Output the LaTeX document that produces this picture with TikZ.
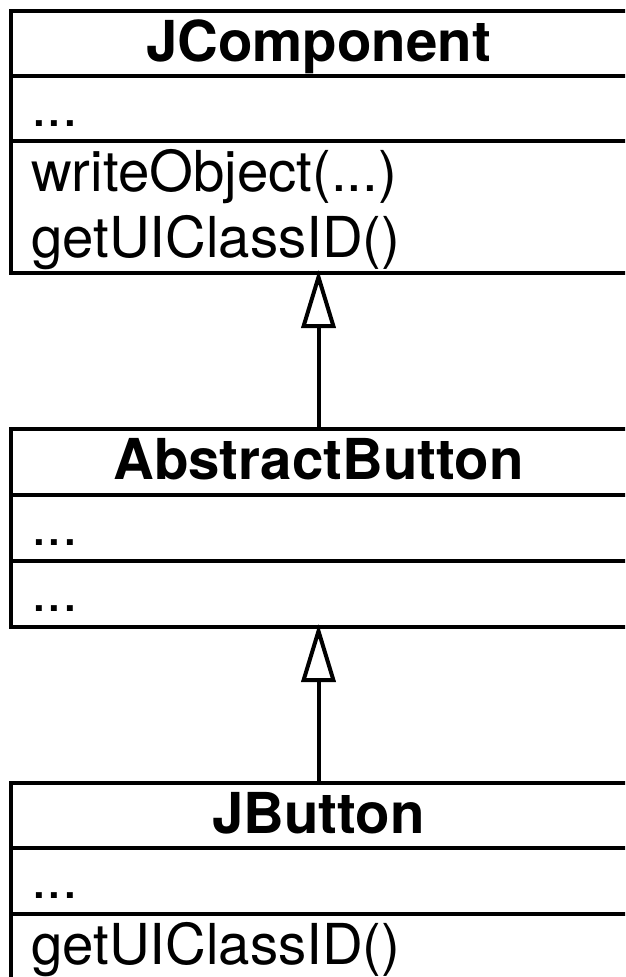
\documentclass[tikz,border=0pt]{standalone}
\usepackage{fontspec}
\setmainfont{TeX Gyre Heros}
\usetikzlibrary{arrows.meta}
\begin{document}
\begin{tikzpicture}[x=1pt,y=1pt,
  umlbox/.style={draw, line width=4pt, inner sep=0pt, outer sep=0pt,
    minimum width=680pt, anchor=north west},
  sepline/.style={line width=4pt},
  classname/.style={anchor=base, inner sep=0pt,
    font=\fontsize{56.4}{67}\selectfont\bfseries},
  member/.style={anchor=base west, inner sep=0pt,
    font=\fontsize{56.4}{67}\selectfont},
  inherits/.style={line width=4pt,
    -{Triangle[open, length=58pt, width=34pt]}, shorten >=-3pt}
]
\useasboundingbox (0,0) rectangle (625,-977);
\clip (0,0) rectangle (625,-977);

% JComponent
\node[umlbox, minimum height=262pt] (jc) at (11,-11) {};
\draw[sepline] ([yshift=-65pt]jc.north west) -- ([yshift=-65pt]jc.north east);
\draw[sepline] ([yshift=-130pt]jc.north west) -- ([yshift=-130pt]jc.north east);
\node[classname] (jcname) at (318.5,-61) {JComponent};
\node[member] (jcattr) at (31,-126) {...};
\node[member] (jcop1) at (31,-191) {writeObject(...)};
\node[member] (jcop2) at (31,-257) {getUIClassID()};

% AbstractButton
\node[umlbox, minimum height=198pt] (ab) at (11,-429) {};
\draw[sepline] ([yshift=-66pt]ab.north west) -- ([yshift=-66pt]ab.north east);
\draw[sepline] ([yshift=-132pt]ab.north west) -- ([yshift=-132pt]ab.north east);
\node[classname] (abname) at (318.5,-479) {AbstractButton};
\node[member] (abattr) at (31,-545) {...};
\node[member] (abop) at (31,-611) {...};

% JButton
\node[umlbox, minimum height=262pt] (jb) at (11,-783) {};
\draw[sepline] ([yshift=-65pt]jb.north west) -- ([yshift=-65pt]jb.north east);
\draw[sepline] ([yshift=-131pt]jb.north west) -- ([yshift=-131pt]jb.north east);
\node[classname] (jbname) at (318.5,-833) {JButton};
\node[member] (jbattr) at (31,-898) {...};
\node[member] (jbop) at (31,-964) {getUIClassID()};

% generalisation arrows
\draw[inherits] (ab.north -| jcname) -- (jc.south -| jcname);
\draw[inherits] (jb.north -| jcname) -- (ab.south -| jcname);
\end{tikzpicture}
\end{document}
